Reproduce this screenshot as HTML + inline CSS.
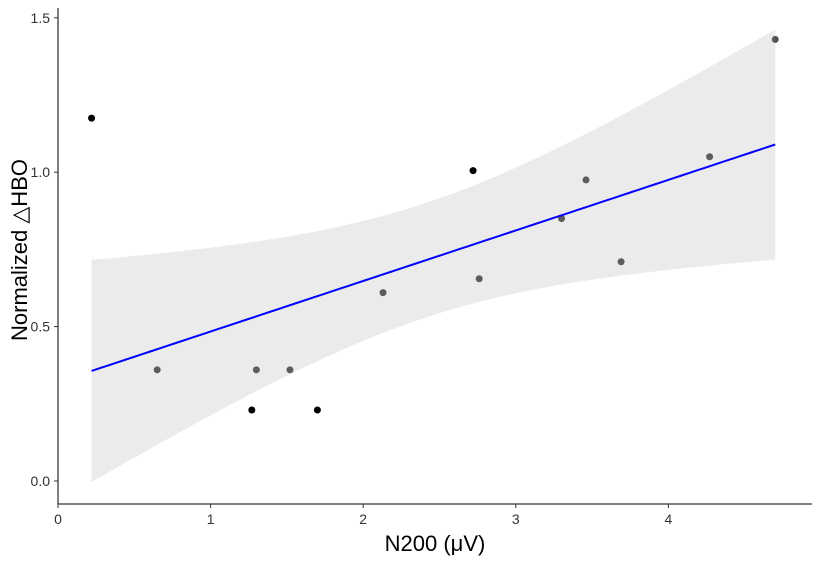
<!DOCTYPE html>
<html><head><meta charset="utf-8"><style>
body{margin:0;background:#fff;font-family:"Liberation Sans",sans-serif}
svg text{font-family:"Liberation Sans","DejaVu Sans",sans-serif}
</style></head><body>
<svg id="chart" width="819" height="556" viewBox="0 0 819 556" xmlns="http://www.w3.org/2000/svg"></svg>
<script>
const xValues=[0.22,0.65,1.27,1.30,1.52,1.70,2.13,2.72,2.76,3.30,3.46,3.69,4.27,4.70];
const yValues=[1.175,0.36,0.23,0.36,0.36,0.23,0.61,1.005,0.655,0.85,0.975,0.71,1.05,1.43];
const xTicks=[0,1,2,3,4];
const yTicks=[0.0,0.5,1.0,1.5];
const xTickLabels=["0","1","2","3","4"];
const yTickLabels=["0.0","0.5","1.0","1.5"];

const svg=document.getElementById('chart');
const NS='http://www.w3.org/2000/svg';
function sx(v){return 58+v*152.6;}
function sy(v){return 481-v*308.8;}
function mk(tag,attrs,parent){const e=document.createElementNS(NS,tag);for(const k in attrs)e.setAttribute(k,attrs[k]);(parent||svg).appendChild(e);return e;}

const n=xValues.length;
const mx=xValues.reduce((a,b)=>a+b)/n, my=yValues.reduce((a,b)=>a+b)/n;
let sxx=0,sxy=0;for(let i=0;i<n;i++){sxx+=(xValues[i]-mx)**2;sxy+=(xValues[i]-mx)*(yValues[i]-my);}
const b1=sxy/sxx,b0=my-b1*mx;
let sse=0;for(let i=0;i<n;i++)sse+=(yValues[i]-b0-b1*xValues[i])**2;
const s=Math.sqrt(sse/(n-2)),t=2.179;
const xmin=Math.min(...xValues),xmax=Math.max(...xValues);
function se(x){return s*Math.sqrt(1/n+(x-mx)**2/sxx);}
let up=[],lo=[],ln=[];
for(let k=0;k<=80;k++){const x=xmin+(xmax-xmin)*k/80;const f=b0+b1*x;up.push(sx(x)+','+sy(f+t*se(x)));lo.unshift(sx(x)+','+sy(f-t*se(x)));ln.push(sx(x)+','+sy(f));}

for(let i=0;i<n;i++){
 const f=b0+b1*xValues[i],h=t*se(xValues[i]);
 const inside=yValues[i]<=f+h&&yValues[i]>=f-h;
 const c=mk('circle',{cx:sx(xValues[i]),cy:sy(yValues[i]),r:3.5,fill:inside?'#4d4d4d':'#000'});
 
 
}
const rib=mk('polygon',{points:up.concat(lo).join(' '),fill:'#999',opacity:'0.2'});


const rl=mk('polyline',{points:ln.join(' '),fill:'none',stroke:'#0000ff','stroke-width':2});



const ya=mk('line',{x1:58,y1:8,x2:58,y2:504,stroke:'#000','stroke-width':1});

const xa=mk('line',{x1:58,y1:504,x2:812,y2:504,stroke:'#000','stroke-width':1});

xTicks.forEach((v,i)=>{
 mk('line',{x1:sx(v),y1:504,x2:sx(v),y2:508,stroke:'#333'});
 const tx=mk('text',{x:sx(v),y:524,'text-anchor':'middle','font-size':14,fill:'#333'});tx.textContent=xTickLabels[i];
 
});
yTicks.forEach((v,i)=>{
 mk('line',{x1:54,y1:sy(v),x2:58,y2:sy(v),stroke:'#333'});
 const tx=mk('text',{x:50,y:sy(v)+5,'text-anchor':'end','font-size':14,fill:'#333'});tx.textContent=yTickLabels[i];
 
});
const xt=mk('text',{x:435,y:551,'text-anchor':'middle','font-size':22,fill:'#000'});xt.textContent='N200 (μV)';

const yt=mk('text',{x:0,y:0,'text-anchor':'middle','font-size':22,fill:'#000',transform:'translate(27,250) rotate(-90)'});yt.textContent='Normalized △HBO';

</script>
</body></html>
